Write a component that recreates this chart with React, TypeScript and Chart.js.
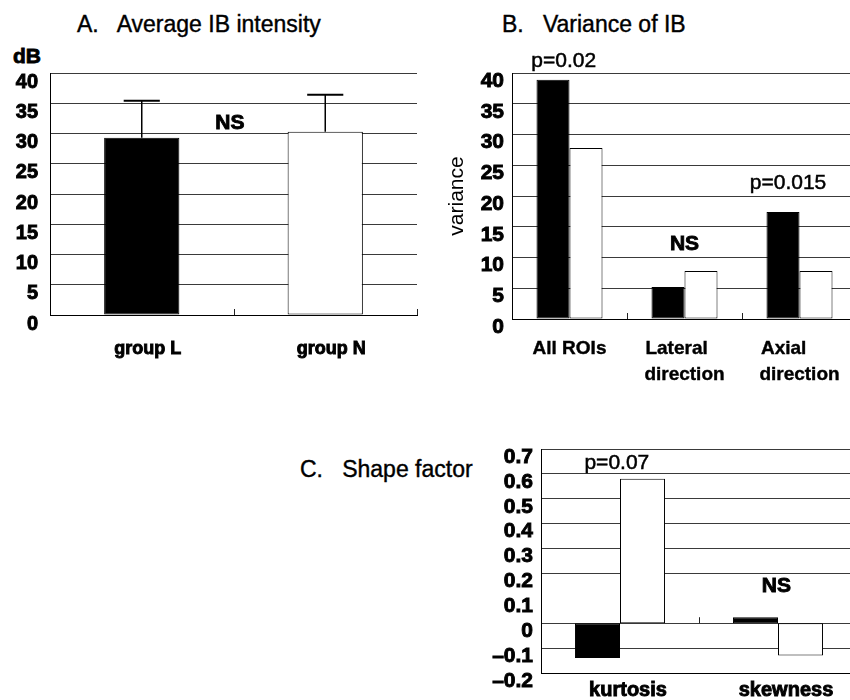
import React, { useEffect, useRef } from 'react';
import { Chart, registerables } from 'chart.js';

Chart.register(...registerables);

const FONT = '"Liberation Sans", Arial, Helvetica, sans-serif';
Chart.defaults.font.family = FONT;
Chart.defaults.color = '#000';

const GRID = '#3a3a3a';
const BLACK = '#000000';
const WHITE = '#ffffff';

// ---- Panel A: Average IB intensity ----
const aCategories = ['group L', 'group N'];
const aMeans = [29.3, 30.3];
const aSD = [6.1, 6.1];
const aNoteText = ['NS'];
const aNoteCat = [0.48];
const aNoteValue = [31.7];

// ---- Panel B: Variance of IB ----
const bCategories = [['All ROIs'], ['Lateral   ', 'direction'], ['Axial      ', 'direction']];
const bGroupL = [38.9, 5.2, 17.4];
const bGroupN = [27.8, 7.8, 7.8];
const bNoteText = ['p=0.02', 'NS', 'p=0.015'];
const bNoteCat = [-0.05, 1.0, 1.9];
const bNoteValue = [41.9, 12.2, 22.1];
const bNoteBold = [false, true, false];

// ---- Panel C: Shape factor ----
const cCategories = ['kurtosis', 'skewness'];
const cGroupL = [-0.14, 0.024];
const cGroupN = [0.58, -0.13];
const cNoteText = ['p=0.07', 'NS'];
const cNoteCat = [-0.02, 0.99];
const cNoteValue = [0.644, 0.149];
const cNoteBold = [false, true];

const HEAVY = { textStrokeWidth: 0.9, textStrokeColor: '#000' };

function makeNotes(texts: string[], cats: number[], values: number[], bolds: boolean[], size: number) {
  return {
    id: 'notes',
    afterDatasetsDraw(chart: any) {
      const { ctx } = chart;
      const x = chart.scales.x;
      const y = chart.scales.y;
      texts.forEach((t, i) => {
        const px = x.getPixelForValue(cats[i]);
        const py = y.getPixelForValue(values[i]);
        ctx.save();
        ctx.font = `${bolds[i] ? 'bold ' : ''}${size}px ${FONT}`;
        ctx.fillStyle = '#000';
        ctx.strokeStyle = '#000';
        ctx.lineWidth = bolds[i] ? 0.9 : 0.5;
        ctx.textAlign = 'center';
        ctx.textBaseline = 'middle';
        ctx.strokeText(t, px, py);
        ctx.fillText(t, px, py);
        ctx.restore();
      });
    },
  };
}

function makeErrorBars(means: number[], sds: number[]) {
  return {
    id: 'errbars',
    afterDatasetsDraw(chart: any) {
      const { ctx } = chart;
      const y = chart.scales.y;
      const meta = chart.getDatasetMeta(0);
      meta.data.forEach((bar: any, i: number) => {
        const top = y.getPixelForValue(means[i] + sds[i]);
        const base = y.getPixelForValue(means[i]);
        const half = bar.width * 0.24;
        ctx.save();
        ctx.strokeStyle = '#000';
        ctx.lineWidth = 1.5;
        ctx.beginPath();
        ctx.moveTo(bar.x, base);
        ctx.lineTo(bar.x, top);
        ctx.stroke();
        ctx.lineWidth = 2;
        ctx.beginPath();
        ctx.moveTo(bar.x - half, top);
        ctx.lineTo(bar.x + half, top);
        ctx.stroke();
        ctx.restore();
      });
    },
  };
}

function makeInnerTicks(n: number) {
  return {
    id: 'innerTicks',
    afterDatasetsDraw(chart: any) {
      const { ctx } = chart;
      const x = chart.scales.x;
      const y = chart.scales.y;
      const y0 = y.getPixelForValue(0);
      ctx.save();
      ctx.strokeStyle = '#222';
      ctx.lineWidth = 1;
      for (let i = 1; i <= n; i++) {
        const px = Math.round(x.getPixelForValue(i - 0.5)) + 0.5;
        ctx.beginPath();
        ctx.moveTo(px, y0);
        ctx.lineTo(px, y0 - 6);
        ctx.stroke();
      }
      ctx.restore();
    },
  };
}

const baseOptions = {
  responsive: false,
  maintainAspectRatio: false,
  animation: false,
  plugins: { legend: { display: false }, tooltip: { enabled: false }, title: { display: false } },
};

function configA(): any {
  return {
    type: 'bar',
    data: {
      labels: aCategories,
      datasets: [
        {
          data: aMeans,
          backgroundColor: [BLACK, WHITE],
          borderColor: '#000',
          borderWidth: 1,
          borderSkipped: false,
          barPercentage: 0.41,
          categoryPercentage: 1,
        },
      ],
    },
    options: {
      ...baseOptions,
      layout: { padding: { top: 73, right: 13, left: 0, bottom: 0 } },
      scales: {
        x: {
          grid: { display: true, drawOnChartArea: false, drawTicks: false },
          border: { display: true, color: '#000', width: 1 },
          ticks: { color: '#000', font: { size: 18, weight: 'bold' }, padding: 23, labelOffset: 6, maxRotation: 0, autoSkip: false, ...HEAVY },
          afterFit: (s: any) => { s.height = 65; },
        },
        y: {
          min: 0,
          max: 40,
          ticks: { stepSize: 5, autoSkip: false, color: '#000', font: { size: 20, weight: 'bold' }, padding: 12, labelOffset: 9, ...HEAVY },
          grid: { color: GRID, drawTicks: false, lineWidth: 1 },
          border: { display: true, color: '#000', width: 1 },
          afterFit: (s: any) => { s.width = 50; },
        },
      },
    },
    plugins: [
      makeErrorBars(aMeans, aSD),
      makeNotes(aNoteText, aNoteCat, aNoteValue, [true], 21),
      makeInnerTicks(aCategories.length),
    ],
  };
}

function configB(): any {
  return {
    type: 'bar',
    data: {
      labels: bCategories,
      datasets: [
        { label: 'group L', data: bGroupL, backgroundColor: BLACK, borderColor: '#000', borderWidth: 1, borderSkipped: false, barPercentage: 1, categoryPercentage: 0.574 },
        { label: 'group N', data: bGroupN, backgroundColor: WHITE, borderColor: '#000', borderWidth: 1, borderSkipped: false, barPercentage: 1, categoryPercentage: 0.574 },
      ],
    },
    options: {
      ...baseOptions,
      layout: { padding: { top: 73, right: 3, left: 0, bottom: 0 } },
      scales: {
        x: {
          grid: { display: true, drawOnChartArea: false, drawTicks: false },
          border: { display: true, color: '#000', width: 1 },
          ticks: { color: '#000', font: { size: 19, weight: 'bold', lineHeight: 1.35 }, padding: 17, maxRotation: 0, autoSkip: false, textStrokeWidth: 0.4, textStrokeColor: '#000' },
          afterFit: (s: any) => { s.height = 81; },
        },
        y: {
          min: 0,
          max: 40,
          title: { display: true, text: 'variance', color: '#000', font: { size: 21 }, padding: { top: 5, bottom: 0 } },
          ticks: { stepSize: 5, autoSkip: false, color: '#000', font: { size: 21, weight: 'bold' }, padding: 8, labelOffset: 8, ...HEAVY },
          grid: { color: GRID, drawTicks: false, lineWidth: 1 },
          border: { display: true, color: '#000', width: 1 },
          afterFit: (s: any) => { s.width = 72; },
        },
      },
    },
    plugins: [
      makeNotes(bNoteText, bNoteCat, bNoteValue, bNoteBold, 21),
      makeInnerTicks(bCategories.length),
    ],
  };
}

function fmtC(v: number): string {
  if (Math.abs(v) < 1e-9) return '0';
  return (v < 0 ? '\u2013' : '') + Math.abs(v).toFixed(1);
}

function configC(): any {
  return {
    type: 'bar',
    data: {
      labels: cCategories,
      datasets: [
        { label: 'group L', data: cGroupL, backgroundColor: BLACK, borderColor: '#000', borderWidth: 1, borderSkipped: false, barPercentage: 1, categoryPercentage: 0.57 },
        { label: 'group N', data: cGroupN, backgroundColor: WHITE, borderColor: '#000', borderWidth: 1, borderSkipped: false, barPercentage: 1, categoryPercentage: 0.57 },
      ],
    },
    options: {
      ...baseOptions,
      layout: { padding: { top: 29, right: 3, left: 0, bottom: 0 } },
      scales: {
        x: {
          grid: { display: true, drawOnChartArea: false, drawTicks: false },
          border: { display: true, color: '#000', width: 1 },
          ticks: { color: '#000', font: { size: 20, weight: 'bold' }, padding: 5, labelOffset: 8, maxRotation: 0, autoSkip: false, ...HEAVY },
          afterFit: (s: any) => { s.height = 27; },
        },
        y: {
          min: -0.2,
          max: 0.7,
          ticks: {
            stepSize: 0.1,
            autoSkip: false,
            color: '#000',
            font: { size: 21, weight: 'bold' },
            padding: 8,
            labelOffset: 8,
            callback: (v: any) => fmtC(Number(v)),
            ...HEAVY,
          },
          grid: {
            color: (c: any) => (c.tick && Math.abs(c.tick.value - 0.1) < 1e-6 ? 'rgba(0,0,0,0)' : GRID),
            drawTicks: false,
            lineWidth: 1,
          },
          border: { display: true, color: '#000', width: 1 },
          afterFit: (s: any) => { s.width = 61; },
        },
      },
    },
    plugins: [
      makeNotes(cNoteText, cNoteCat, cNoteValue, cNoteBold, 21),
      makeInnerTicks(cCategories.length),
    ],
  };
}

function ChartBox(props: { left: number; top: number; width: number; height: number; make: () => any }) {
  const ref = useRef<HTMLCanvasElement>(null);
  useEffect(() => {
    const chart = new Chart(ref.current as HTMLCanvasElement, props.make());
    return () => chart.destroy();
  }, []);
  return (
    <canvas
      ref={ref}
      width={props.width}
      height={props.height}
      style={{ position: 'absolute', left: props.left, top: props.top, width: props.width, height: props.height }}
    />
  );
}

function Label(props: { left: number; top: number; size: number; bold?: boolean; text: string }) {
  return (
    <div
      style={{
        position: 'absolute',
        left: props.left,
        top: props.top,
        fontFamily: FONT,
        fontSize: props.size,
        fontWeight: props.bold ? 'bold' : 'normal',
        lineHeight: 1,
        whiteSpace: 'pre',
        color: '#000',
        WebkitTextStroke: props.bold ? '0.8px #000' : '0.4px #000',
      }}
    >
      {props.text}
    </div>
  );
}

export default function App() {
  return (
    <div style={{ position: 'absolute', left: 0, top: 0, width: 850, height: 700, overflow: 'hidden', background: '#fff' }}>
      <Label left={77} top={12.5} size={23} text={'A.   Average IB intensity'} />
      <Label left={502} top={12.5} size={23} text={'B.   Variance of IB'} />
      <Label left={300} top={457.5} size={23} text={'C.   Shape factor'} />
      <Label left={13} top={45} size={21} bold text={'dB'} />
      <ChartBox left={0} top={0} width={430} height={380} make={configA} />
      <ChartBox left={440} top={0} width={420} height={400} make={configB} />
      <ChartBox left={480} top={420} width={380} height={280} make={configC} />
    </div>
  );
}
